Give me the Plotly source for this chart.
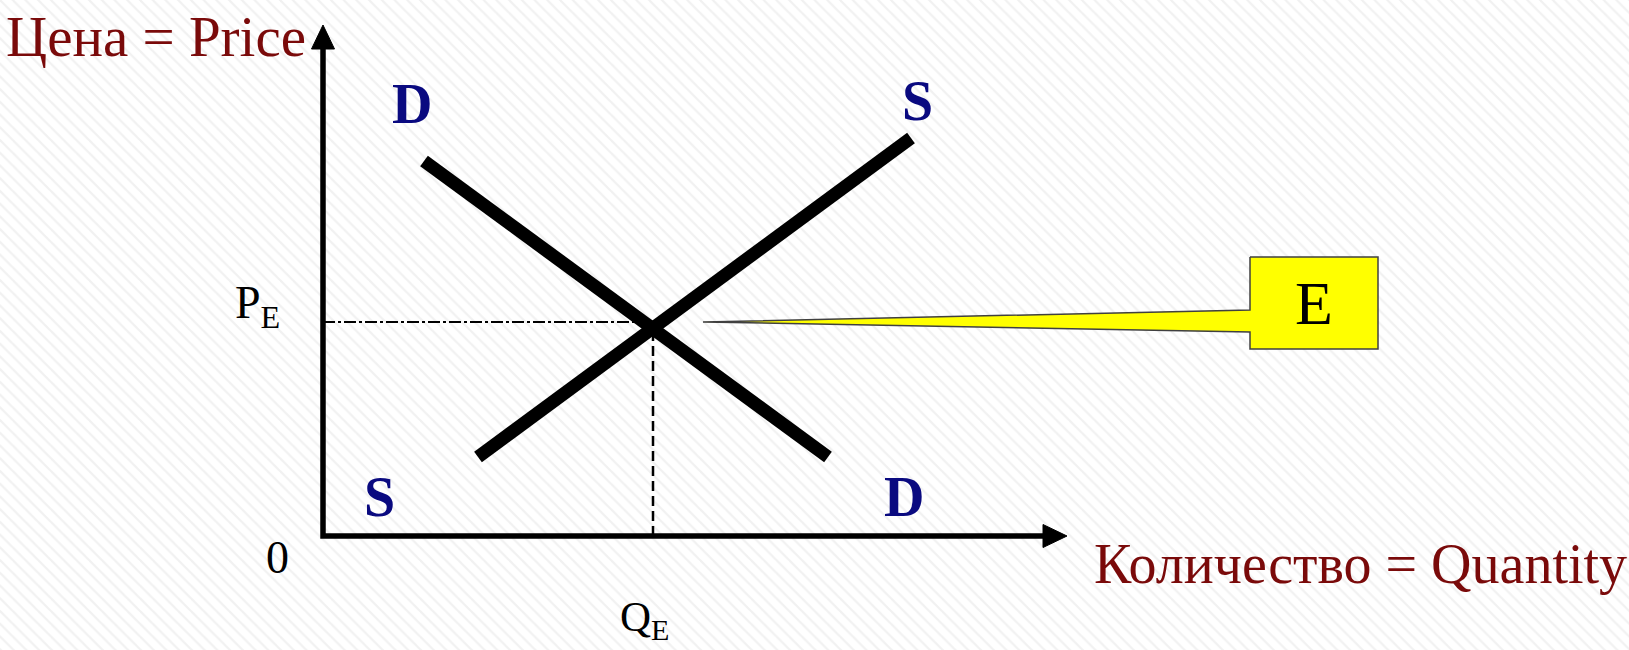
import plotly.graph_objects as go

# ---- data (abstract units: quantity on x, price on y) ----
demand_q = [2.02, 10.1]
demand_p = [7.5, 1.58]
supply_q = [3.1, 11.76]
supply_p = [1.58, 7.96]
q_eq = 6.6
p_eq = 4.16
p_eq_line = 4.28
y_axis_top = 10.22
x_axis_end = 14.88
head_len = 0.48
head_half = 0.23

# callout (yellow "E" box with pointer tail)
callout_x = [18.54, 21.1, 21.1, 18.54, 18.54, 7.6, 18.54, 18.54]
callout_y = [5.58, 5.58, 3.74, 3.74, 4.08, 4.28, 4.52, 5.58]

# view window (px per unit = 50, origin at pixel (323, 536))
X_RANGE = [-6.46, 26.12]
Y_RANGE = [-2.28, 10.72]

SERIF = "Liberation Serif, Times New Roman, serif"
DARKRED = "#7a0a0a"
NAVY = "#0a0a80"

fig = go.Figure()

# faint striped background
fig.add_trace(go.Scatter(
    x=[X_RANGE[0], X_RANGE[1], X_RANGE[1], X_RANGE[0], X_RANGE[0]],
    y=[Y_RANGE[0], Y_RANGE[0], Y_RANGE[1], Y_RANGE[1], Y_RANGE[0]],
    mode="lines", line=dict(width=0), fill="toself",
    fillcolor="white",
    fillpattern=dict(shape="\\", fgcolor="#e4e4e4", bgcolor="white", size=9, solidity=0.25),
    hoverinfo="skip", showlegend=False))

# dash-dot horizontal at P_E
fig.add_trace(go.Scatter(x=[0, q_eq], y=[p_eq_line, p_eq_line], mode="lines",
                         line=dict(color="black", width=2, dash="12px,3px,3px,3px"),
                         hoverinfo="skip", showlegend=False))
# dashed vertical at Q_E
fig.add_trace(go.Scatter(x=[q_eq, q_eq], y=[0, p_eq], mode="lines",
                         line=dict(color="black", width=2.5, dash="10px,5px"),
                         hoverinfo="skip", showlegend=False))

# demand and supply
fig.add_trace(go.Scatter(x=demand_q, y=demand_p, mode="lines",
                         line=dict(color="black", width=13), showlegend=False, hoverinfo="skip"))
fig.add_trace(go.Scatter(x=supply_q, y=supply_p, mode="lines",
                         line=dict(color="black", width=13), showlegend=False, hoverinfo="skip"))

# callout
fig.add_trace(go.Scatter(x=callout_x, y=callout_y, mode="lines", fill="toself",
                         fillcolor="#ffff00", line=dict(color="#404040", width=1.5),
                         showlegend=False, hoverinfo="skip"))

# axes (lines + arrowheads)
fig.add_trace(go.Scatter(x=[0, 0, x_axis_end - head_len], y=[y_axis_top - head_len, 0, 0],
                         mode="lines", line=dict(color="black", width=5.5),
                         showlegend=False, hoverinfo="skip"))
fig.add_trace(go.Scatter(
    x=[-head_half, 0, head_half, -head_half],
    y=[y_axis_top - head_len, y_axis_top, y_axis_top - head_len, y_axis_top - head_len],
    mode="lines", fill="toself", fillcolor="black", line=dict(color="black", width=1),
    showlegend=False, hoverinfo="skip"))
fig.add_trace(go.Scatter(
    x=[x_axis_end - head_len, x_axis_end, x_axis_end - head_len, x_axis_end - head_len],
    y=[head_half, 0, -head_half, head_half],
    mode="lines", fill="toself", fillcolor="black", line=dict(color="black", width=1),
    showlegend=False, hoverinfo="skip"))

def label(x, y, text, size, color, bold=False):
    fig.add_annotation(x=x, y=y, xref="x", yref="y", text=(f"<b>{text}</b>" if bold else text),
                       showarrow=False, font=dict(family=SERIF, size=size, color=color))

label(-3.34, 10.0, "Цена = Price", 57, DARKRED)
label(20.74, -0.56, "Количество = Quantity", 56, DARKRED)
label(-0.92, -0.42, "0", 46, "black")
label(-1.32, 4.6, "P<sub>E</sub>", 46, "black")
label(6.42, -1.68, "Q<sub>E</sub>", 43, "black")
label(19.82, 4.66, "E", 62, "black")
label(1.78, 8.64, "D", 56, NAVY, bold=True)
label(11.88, 8.7, "S", 56, NAVY, bold=True)
label(1.12, 0.78, "S", 56, NAVY, bold=True)
label(11.62, 0.78, "D", 56, NAVY, bold=True)

fig.update_xaxes(range=X_RANGE, visible=False, fixedrange=True)
fig.update_yaxes(range=Y_RANGE, visible=False, fixedrange=True)
fig.update_layout(width=1629, height=650, margin=dict(l=0, r=0, t=0, b=0),
                  paper_bgcolor="white", plot_bgcolor="white")

fig.write_html("out.html", config={"displayModeBar": False},
               post_script="document.body.style.margin='0';document.body.style.overflow='hidden';")
